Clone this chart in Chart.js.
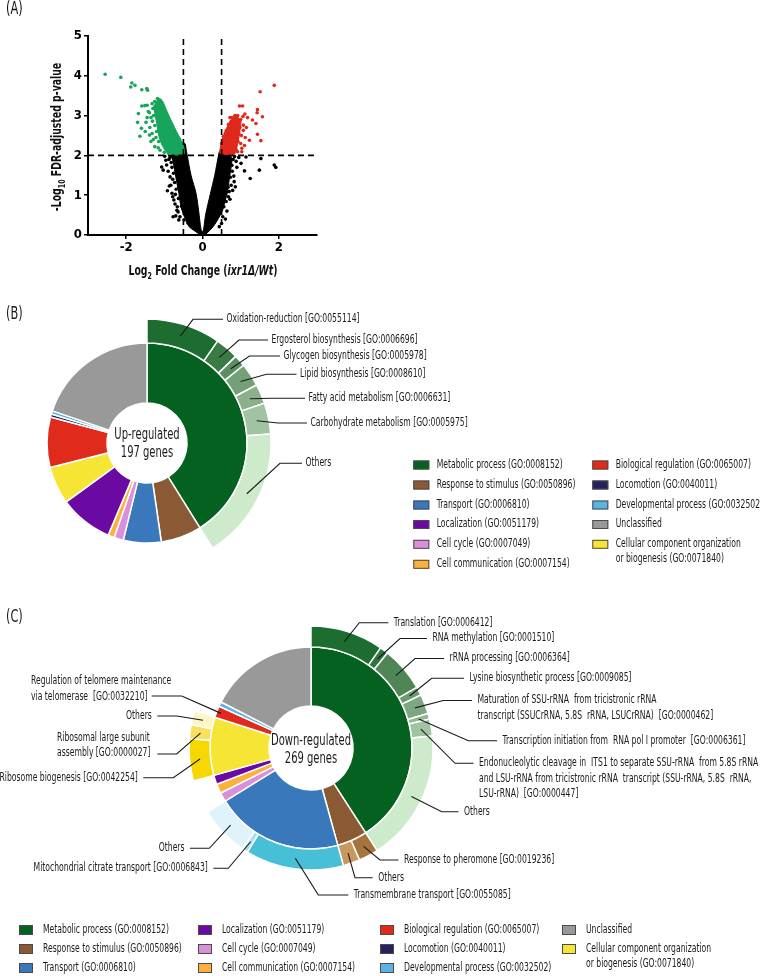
<!DOCTYPE html>
<html>
<head>
<meta charset="utf-8">
<script src="https://cdn.jsdelivr.net/npm/chart.js@4.4.1/dist/chart.umd.min.js"></script>
<style>
  html, body { margin: 0; padding: 0; background: #fff; }
  #wrap { position: relative; width: 760px; height: 976px; overflow: hidden; }
  #wrap canvas { position: absolute; left: 0; top: 0; }
</style>
</head>
<body>
<div id="wrap">
  <canvas id="volcano" width="760" height="976"></canvas>
  <canvas id="upChart" width="760" height="976"></canvas>
  <canvas id="downChart" width="760" height="976"></canvas>
</div>
<script>
// ---------- (A) volcano plot: log2 FC vs -log10 FDR ----------
const xTicks = [-2, 0, 2];
const yTicks = [0, 1, 2, 3, 4, 5];
const xLim = [-3, 3];
const yLim = [0, 5];
const fcCut = 0.5;
const pCut = 2;

// outline of the dense cloud of non-significant genes (the black V)
const nsCloud = [[-0.06,0],[-0.2,0.1],[-0.35,0.21],[-0.47,0.45],[-0.54,0.63],[-0.59,0.85],[-0.62,1.05],[-0.66,1.25],[-0.7,1.46],[-0.74,1.68],[-0.78,1.88],[-0.8,2],
  [-0.6,2.05],[-0.52,2.28],[-0.46,2.3],[-0.42,2.1],[-0.4,2],[-0.3,1.5],[-0.17,1.05],[-0.1,0.6],[-0.04,0.15],[0,0.08],
  [0.03,0.15],[0.08,0.5],[0.21,1.05],[0.32,1.5],[0.42,2],[0.46,2.12],[0.56,2.08],[0.72,2.02],
  [0.77,1.88],[0.75,1.7],[0.71,1.46],[0.68,1.25],[0.65,1.05],[0.59,0.85],[0.53,0.63],[0.42,0.42],[0.28,0.21],[0.12,0.05],[0.05,0]];
const nsPts = [[-1.07,1.71],[-1.03,1.63],[-0.96,1.88],[-0.94,1.76],[-0.85,1.46],[-0.87,1.23],[-0.92,1.11],[-0.78,0.96],[-0.75,0.88],[-0.66,0.71],[-0.64,0.58],[-0.7,0.48],[-0.59,0.46],[-0.77,0.46],[-0.85,1.95],[-0.8,1.7],[-0.76,1.55],[-0.73,1.32],[-0.69,1.15],[-0.63,0.92],[-0.55,0.72],[-0.48,0.38],[-0.38,0.3],[-0.82,1.82],[-0.78,1.4],[-0.71,1.02],
  [-0.9,1.6],[-0.83,1.25],[-0.8,1.05],[-0.72,0.78],[-0.67,0.62],[-0.88,1.9],[-0.99,1.98],[-0.62,0.38],
  [1.01,1.8],[1.14,1.96],[1.53,1.92],[1.88,1.76],[1.92,1.7],[1.49,1.63],[1.1,1.61],[1.25,1.42],[0.83,1.34],[0.86,1.21],[0.75,1.25],[0.7,1.09],[0.68,0.96],[0.62,0.84],[0.56,0.71],[0.53,0.46],[0.5,0.29],[0.44,0.21],[0.8,1.9],[0.88,1.85],[0.78,1.6],[0.73,1.45],[0.95,1.95],[0.67,1.2],[0.84,1.97],[0.77,1.75],
  [0.9,1.7],[0.82,1.48],[0.79,1.12],[0.72,0.9],[0.64,0.6],[0.6,0.4]];
// down-regulated (green)
const downCloud = [[-1.18,3.42],[-1.06,3.38],[-0.97,3.2],[-0.88,3],[-0.78,2.8],[-0.68,2.6],[-0.58,2.42],[-0.5,2.25],[-0.49,2.02],[-0.75,2.02],[-0.95,2.1],[-1.08,2.3],[-1.16,2.55],[-1.2,2.8],[-1.25,3.05],[-1.28,3.25]];
const downPts = [[-2.55,4.04],[-2.14,3.96],[-1.85,3.82],[-1.88,3.72],[-1.77,3.76],[-1.59,3.65],[-1.46,3.68],[-1.44,3.64],[-1.13,3.4],[-1.59,3.24],[-1.51,3.25],[-1.45,3.26],[-1.68,3.05],[-1.39,3.07],[-1.7,2.83],[-1.48,2.83],[-1.31,2.86],[-1.6,2.68],[-1.64,2.48],[-1.39,2.51],[-1.29,2.4],[-1.16,2.19],[-1.11,2.13],[-1.25,3.35],[-1.18,3.43],[-1.1,3.37],[-1.3,3.18],[-1.22,3.15],[-1.28,3],[-1.18,2.95],[-1.25,2.75],[-1.12,2.7],[-1.2,2.6],[-1.05,2.45],[-1.02,2.3],[-0.95,2.15],[-0.9,2.06],[-1,2.55],[-0.98,3],[-0.9,2.9],[-0.8,2.75],[-0.7,2.55],[-0.62,2.42],[-0.55,2.25],[-0.51,2.1],[-1.35,2.95],[-1.38,2.7],[-1.05,3.15],[-1.15,3.25],[-0.85,2.45],[-1.08,2.85],
  [-1.45,2.95],[-1.5,2.6],[-1.32,2.55],[-1.25,2.22],[-1.35,2.35],[-1.42,3.1],[-1.32,3.3],[-1.22,2.45],[-1.15,2.35],[-1.0,2.08],[-0.6,2.1]];
// up-regulated (red)
const upCloud = [[0.47,2.02],[0.46,2.15],[0.5,2.35],[0.56,2.52],[0.63,2.68],[0.7,2.82],[0.78,2.93],[0.9,2.97],[1.0,2.87],[0.99,2.68],[0.96,2.48],[0.92,2.28],[0.88,2.12],[0.84,2.02]];
const upPts = [[1.88,3.76],[1.51,3.6],[0.97,3.24],[1.05,3.24],[1.44,3.15],[1.43,3.07],[1.11,3.04],[1.31,2.89],[1.57,2.97],[1.4,2.8],[1.18,2.95],[1.07,2.76],[1.44,2.53],[1.53,2.37],[1.12,2.45],[1.23,2.38],[1.07,2.63],[1.03,2.18],[1.03,2.09],[0.92,2.09],[0.9,2.45],[0.85,3],[0.92,3],[0.78,2.95],[1,2.9],[0.98,2.7],[0.95,2.55],[0.93,2.35],[0.88,2.15],[0.8,2.06],[0.7,2.1],[0.6,2.05],[0.48,2.1],[0.5,2.3],[0.55,2.48],[0.62,2.62],[0.68,2.78],[0.75,2.85],[0.66,2.05],[1,2.3],[0.97,2.85],[1.06,2.98],
  [1.15,2.7],[1.1,2.25],[0.72,2.95],[0.6,2.55],[1.02,2.5]];

// ---------- (B)/(C) GO slim categories ----------
const goTerms = ['Metabolic process (GO:0008152)', 'Response to stimulus (GO:0050896)', 'Transport (GO:0006810)',
  'Localization (GO:0051179)', 'Cell cycle (GO:0007049)', 'Cell communication (GO:0007154)',
  'Biological regulation (GO:0065007)', 'Locomotion (GO:0040011)', 'Developmental process (GO:0032502)',
  'Unclassified', 'Cellular component organization\nor biogenesis (GO:0071840)'];
const ringOrder = [0, 1, 2, 4, 5, 3, 10, 6, 7, 8, 9];
const upCounts = [81, 13, 12, 17, 3, 2, 16, 1, 1, 39, 12];
const downCounts = [110, 13, 55, 4, 4, 4, 5, 0, 2, 47, 25];

const upMetaTerms = ['Oxidation-reduction [GO:0055114]', 'Ergosterol biosynthesis [GO:0006696]', 'Glycogen biosynthesis [GO:0005978]',
  'Lipid biosynthesis [GO:0008610]', 'Fatty acid metabolism [GO:0006631]', 'Carbohydrate metabolism [GO:0005975]', 'Others'];
const upMetaCounts = [19, 6, 3, 6, 5, 8, 34];

const downMetaTerms = ['Translation [GO:0006412]', 'RNA methylation [GO:0001510]', 'rRNA processing [GO:0006364]',
  'Lysine biosynthetic process [GO:0009085]',
  'Maturation of SSU-rRNA  from tricistronic rRNA\ntranscript (SSUCrRNA, 5.8S  rRNA, LSUCrRNA)  [GO:0000462]',
  'Transcription initiation from  RNA pol I promoter  [GO:0006361]',
  'Endonucleolytic cleavage in  ITS1 to separate SSU-rRNA  from 5.8S rRNA\nand LSU-rRNA from tricistronic rRNA  transcript (SSU-rRNA, 5.8S  rRNA,\nLSU-rRNA)  [GO:0000447]',
  'Others'];
const downMetaCounts = [26, 3, 16, 3, 7, 2, 6, 47];
const downRespTerms = ['Response to pheromone [GO:0019236]', 'Others'];
const downRespCounts = [7, 6];
const downTransTerms = ['Transmembrane transport [GO:0055085]', 'Mitochondrial citrate transport [GO:0006843]', 'Others'];
const downTransCounts = [35, 2, 18];
const downCompTerms = ['Ribosome biogenesis [GO:0042254]', 'Ribosomal large subunit\nassembly [GO:0000027]', 'Others'];
const downCompCounts = [15, 5, 5];
const downRegNote = 'Regulation of telomere maintenance\nvia telomerase  [GO:0032210]';

// ---------- styles ----------
const FONT = '"Liberation Sans Narrow","DejaVu Sans Condensed","Roboto Condensed",Roboto,"Liberation Sans",sans-serif';
const NONE = 'rgba(0,0,0,0)';
const goColors = ['#05611f', '#8a5a34', '#3878bb', '#6a0aa2', '#da8fdb', '#fbb13c', '#e02a1c', '#25215f', '#5cb3df', '#999999', '#f7e535'];
const upMetaColors = ['#1d6d31', '#3a7a44', '#5a8e5e', '#74a077', '#8bb08c', '#a2c3a1', '#cdeacb'];
const downMetaColors = ['#1d6d31', '#2f7440', '#4f8655', '#6a9a6e', '#7ea781', '#94b795', '#a2c3a1', '#cdeacb'];
const downRespColors = ['#a6743f', '#c8995f'];
const downTransColors = ['#47bfd7', '#a9dff0', '#e1f3fa'];
const downCompColors = ['#f6d700', '#fbe060', '#fff5c4'];
const LF = '11.5px ' + FONT;

Chart.defaults.font.family = FONT;

// the original uses a condensed face; squeeze text horizontally to its width
let SX = 1;
(function () {
  const c = document.createElement('canvas').getContext('2d');
  c.font = LF;
  SX = Math.min(1, 133 / c.measureText('Oxidation-reduction [GO:0055114]').width);
})();

function text(ctx, s, x, y, align, font) {
  ctx.save();
  ctx.font = font;
  ctx.textAlign = align || 'left';
  ctx.textBaseline = 'middle';
  ctx.translate(x, y);
  ctx.scale(SX, 1);
  ctx.fillText(s, 0, 0);
  ctx.restore();
}

function runs(ctx, parts, cx, base) {
  let w = 0;
  parts.forEach(p => { ctx.font = p.f; p.w = ctx.measureText(p.t).width * SX; w += p.w; });
  let x = cx - w / 2;
  parts.forEach(p => {
    ctx.save();
    ctx.font = p.f;
    ctx.textAlign = 'left';
    ctx.textBaseline = 'alphabetic';
    ctx.translate(x, base + (p.dy || 0));
    ctx.scale(SX, 1);
    ctx.fillText(p.t, 0, 0);
    ctx.restore();
    x += p.w;
  });
}

const xy = arr => arr.map(([x, y]) => ({x, y}));

// ---------- volcano ----------
const volcanoDecor = {
  id: 'volcanoDecor',
  afterDraw(chart) {
    const ctx = chart.ctx;
    const b = 'bold 14px ' + FONT, sub = 'bold 9.5px ' + FONT;
    ctx.fillStyle = '#111';
    text(ctx, '(A)', 6, 10, 'left', '17px ' + FONT);
    runs(ctx, [{t: 'Log', f: b}, {t: '2', f: sub, dy: 4}, {t: ' Fold Change (', f: b},
      {t: 'ixr1Δ/Wt', f: 'italic ' + b}, {t: ')', f: b}], 203, 275);
    ctx.save();
    ctx.translate(56, 137);
    ctx.rotate(-Math.PI / 2);
    runs(ctx, [{t: '-Log', f: b}, {t: '10', f: sub, dy: 4}, {t: ' FDR-adjusted p-value', f: b}], 0, 5);
    ctx.restore();
  }
};

const cloud = (pts, color, order) => ({type: 'line', data: xy(pts), fill: 'shape', backgroundColor: color,
  borderColor: color, borderWidth: 1, pointRadius: 0, tension: 0.3, order});
const dots = (pts, color, order) => ({type: 'scatter', data: xy(pts), backgroundColor: color,
  pointRadius: 1.8, pointBorderWidth: 0, order});
const dash = pts => ({type: 'line', data: xy(pts), borderColor: '#000', borderWidth: 1.6,
  borderDash: [6, 4], pointRadius: 0, fill: false, order: 0});

const tickFont = {family: FONT, size: 13, weight: 'bold'};
new Chart(document.getElementById('volcano'), {
  type: 'scatter',
  data: {
    datasets: [
      dash([[-fcCut, yLim[0]], [-fcCut, yLim[1]]]),
      dash([[fcCut, yLim[0]], [fcCut, yLim[1]]]),
      dash([[xLim[0], pCut], [xLim[1], pCut]]),
      dots(upPts, '#e0281c', 1),
      dots(downPts, '#17a45b', 1),
      dots(nsPts, '#000', 2),
      cloud(upCloud, '#e0281c', 3),
      cloud(downCloud, '#17a45b', 3),
      cloud(nsCloud, '#000', 4)
    ]
  },
  options: {
    responsive: false, animation: false, events: [],
    layout: {padding: {left: 58, right: 443, top: 36, bottom: 721}},
    plugins: {legend: {display: false}, tooltip: {enabled: false}},
    scales: {
      x: {
        type: 'linear', min: xLim[0], max: xLim[1],
        afterBuildTicks: s => { s.ticks = xTicks.map(v => ({value: v})); },
        afterFit: s => { s.height = 20; },
        grid: {drawOnChartArea: false, color: '#000', lineWidth: 1.5, tickLength: 4},
        border: {color: '#000', width: 2},
        ticks: {color: '#000', font: tickFont, padding: 1}
      },
      y: {
        type: 'linear', min: yLim[0], max: yLim[1],
        afterBuildTicks: s => { s.ticks = yTicks.map(v => ({value: v})); },
        afterFit: s => { s.width = 30; },
        grid: {drawOnChartArea: false, color: '#000', lineWidth: 1.5, tickLength: 4},
        border: {color: '#000', width: 2},
        ticks: {color: '#000', font: tickFont, padding: 2}
      }
    }
  },
  plugins: [volcanoDecor]
});

// ---------- nested doughnuts ----------
function ringData(counts, subs) {
  const inner = ringOrder.map(i => counts[i]);
  const innerCol = ringOrder.map(i => goColors[i]);
  const outer = [], outerCol = [], outerId = [];
  ringOrder.forEach(i => {
    const s = subs[i];
    if (s) s.counts.forEach((v, k) => { outer.push(v); outerCol.push(s.colors[k]); outerId.push(i + ':' + k); });
    else { outer.push(counts[i]); outerCol.push(NONE); outerId.push(''); }
  });
  return {inner, innerCol, outer, outerCol, outerId};
}

function ringDecor(d, subs, o) {
  return {
    id: 'ringDecor',
    afterDraw(chart) {
      const ctx = chart.ctx;
      const outer = chart.getDatasetMeta(0).data;
      const inner = chart.getDatasetMeta(1).data;
      const c = inner[0];
      ctx.fillStyle = '#1a1a1a';
      text(ctx, o.tag, 6, o.tagY, 'left', '17px ' + FONT);
      o.centre.forEach((s, k) => text(ctx, s, c.x, c.y + o.centreDy + (k - 0.5) * 18.5, 'center', '15px ' + FONT));

      ctx.strokeStyle = '#1a1a1a';
      ctx.lineWidth = 1.1;
      o.labels.forEach(L => {
        const [cat, k] = L.term.split(':');
        const isNote = k === 'note';
        const arc = isNote ? inner[ringOrder.indexOf(+cat)] : outer[d.outerId.indexOf(L.term)];
        const str = isNote ? o.notes[cat] : subs[cat].terms[+k];
        const a = (arc.startAngle + arc.endAngle) / 2;
        const r = arc.innerRadius + (arc.outerRadius - arc.innerRadius) * (L.rf || 0.5);
        ctx.beginPath();
        ctx.moveTo(arc.x + r * Math.cos(a), arc.y + r * Math.sin(a));
        ctx.lineTo(L.knee[0], L.knee[1]);
        ctx.lineTo(L.end[0], L.end[1]);
        ctx.stroke();
        const align = L.align || (L.end[0] < L.knee[0] ? 'right' : 'left');
        const tx = L.textAt ? L.textAt[0] : L.end[0] + (align === 'left' ? o.gap : -o.gap);
        const ty = L.textAt ? L.textAt[1] : L.end[1];
        str.split('\n').forEach((line, j) => text(ctx, line, tx, ty + j * 15.5, align, LF));
      });

      const g = o.legend;
      goTerms.forEach((name, i) => {
        const x = g.cols[Math.floor(i / g.perCol)], y = g.rows[i % g.perCol];
        ctx.fillStyle = goColors[i];
        ctx.fillRect(x, y - g.box[1] / 2, g.box[0], g.box[1]);
        ctx.strokeStyle = '#4a4a4a';
        ctx.lineWidth = 1;
        ctx.strokeRect(x + 0.5, y - g.box[1] / 2 + 0.5, g.box[0] - 1, g.box[1] - 1);
        ctx.fillStyle = '#1a1a1a';
        name.split('\n').forEach((line, j) => text(ctx, line, x + g.dx, y + j * 15, 'left', LF));
      });
    }
  };
}

function makeRing(id, counts, subs, o) {
  const d = ringData(counts, subs);
  const bw = (vals, cols) => vals.map((v, k) => (v > 0 && cols[k] !== NONE) ? 1.5 : 0);
  return new Chart(document.getElementById(id), {
    type: 'doughnut',
    data: {
      datasets: [
        {data: d.outer, backgroundColor: d.outerCol, borderColor: '#fff', borderWidth: bw(d.outer, d.outerCol), weight: o.outerW},
        {data: d.inner, backgroundColor: d.innerCol, borderColor: '#fff', borderWidth: bw(d.inner, d.innerCol), weight: o.innerW}
      ]
    },
    options: {
      responsive: false, animation: false, events: [],
      radius: o.r, cutout: (o.hole / o.r * 100) + '%',
      layout: {padding: o.pad},
      plugins: {legend: {display: false}, tooltip: {enabled: false}}
    },
    plugins: [ringDecor(d, subs, o)]
  });
}

const sum = a => a.reduce((s, v) => s + v, 0);

makeRing('upChart', upCounts, {0: {terms: upMetaTerms, counts: upMetaCounts, colors: upMetaColors}}, {
  tag: '(B)', tagY: 314.5,
  centre: ['Up-regulated', sum(upCounts) + ' genes'], centreDy: 1,
  r: 124, hole: 40, outerW: 24, innerW: 60,
  pad: {left: 20, right: 486, top: 316, bottom: 406},
  gap: 3.5,
  labels: [
    {term: '0:0', knee: [193, 319.3], end: [223, 319.3]},
    {term: '0:1', knee: [239, 340], end: [268, 340]},
    {term: '0:2', knee: [249.5, 356], end: [280, 356]},
    {term: '0:3', knee: [266.5, 374.3], end: [296.5, 374.3]},
    {term: '0:4', knee: [271.5, 398.3], end: [305, 398.3]},
    {term: '0:5', knee: [278, 423], end: [307, 423]},
    {term: '0:6', knee: [280, 463.3], end: [302, 463.3]}
  ],
  legend: {cols: [413.3, 592.3], rows: [465, 485, 505, 524.5, 544.3, 564.3], perCol: 6, box: [16, 9], dx: 23.4}
});

makeRing('downChart', downCounts, {
  0: {terms: downMetaTerms, counts: downMetaCounts, colors: downMetaColors},
  1: {terms: downRespTerms, counts: downRespCounts, colors: downRespColors},
  2: {terms: downTransTerms, counts: downTransCounts, colors: downTransColors},
  10: {terms: downCompTerms, counts: downCompCounts, colors: downCompColors}
}, {
  tag: '(C)', tagY: 617.5,
  centre: ['Down-regulated', sum(downCounts) + ' genes'], centreDy: 2,
  r: 122, hole: 42, outerW: 21, innerW: 59,
  pad: {left: 186, right: 324, top: 623, bottom: 103},
  gap: 5.5,
  notes: {6: downRegNote},
  labels: [
    {term: '0:0', knee: [359.3, 622.7], end: [388.3, 622.7]},
    {term: '0:1', knee: [400, 638.5], end: [427, 638.5]},
    {term: '0:2', knee: [415, 658.5], end: [444, 658.5]},
    {term: '0:3', knee: [431.7, 678.3], end: [464, 678.3]},
    {term: '0:4', knee: [443.3, 700.5], end: [472, 700.5]},
    {term: '0:5', knee: [468.3, 740.7], end: [497, 740.7]},
    {term: '0:6', knee: [455, 763.3], end: [473.5, 763.3]},
    {term: '0:7', knee: [441.7, 811.7], end: [458.5, 811.7]},
    {term: '1:0', knee: [380, 860], end: [398.5, 860]},
    {term: '1:1', knee: [355, 877.7], end: [372.7, 877.7]},
    {term: '2:0', knee: [318.3, 895], end: [348.3, 895]},
    {term: '2:1', knee: [228.3, 868.3], end: [213.3, 868.3]},
    {term: '2:2', knee: [209.3, 848.3], end: [190, 848.3]},
    {term: '10:0', knee: [173.3, 777.7], end: [143.3, 777.7]},
    {term: '10:1', knee: [176.7, 754], end: [157.3, 754], textAt: [57, 738], align: 'left'},
    {term: '10:2', knee: [176.7, 716], end: [157.3, 716]},
    {term: '6:note', knee: [181.7, 696], end: [151.7, 696], textAt: [31, 681.5], align: 'left', rf: 0.92}
  ],
  legend: {cols: [19, 198, 380, 562], rows: [930, 949, 968], perCol: 3, box: [14, 10], dx: 24}
});
</script>
</body>
</html>
